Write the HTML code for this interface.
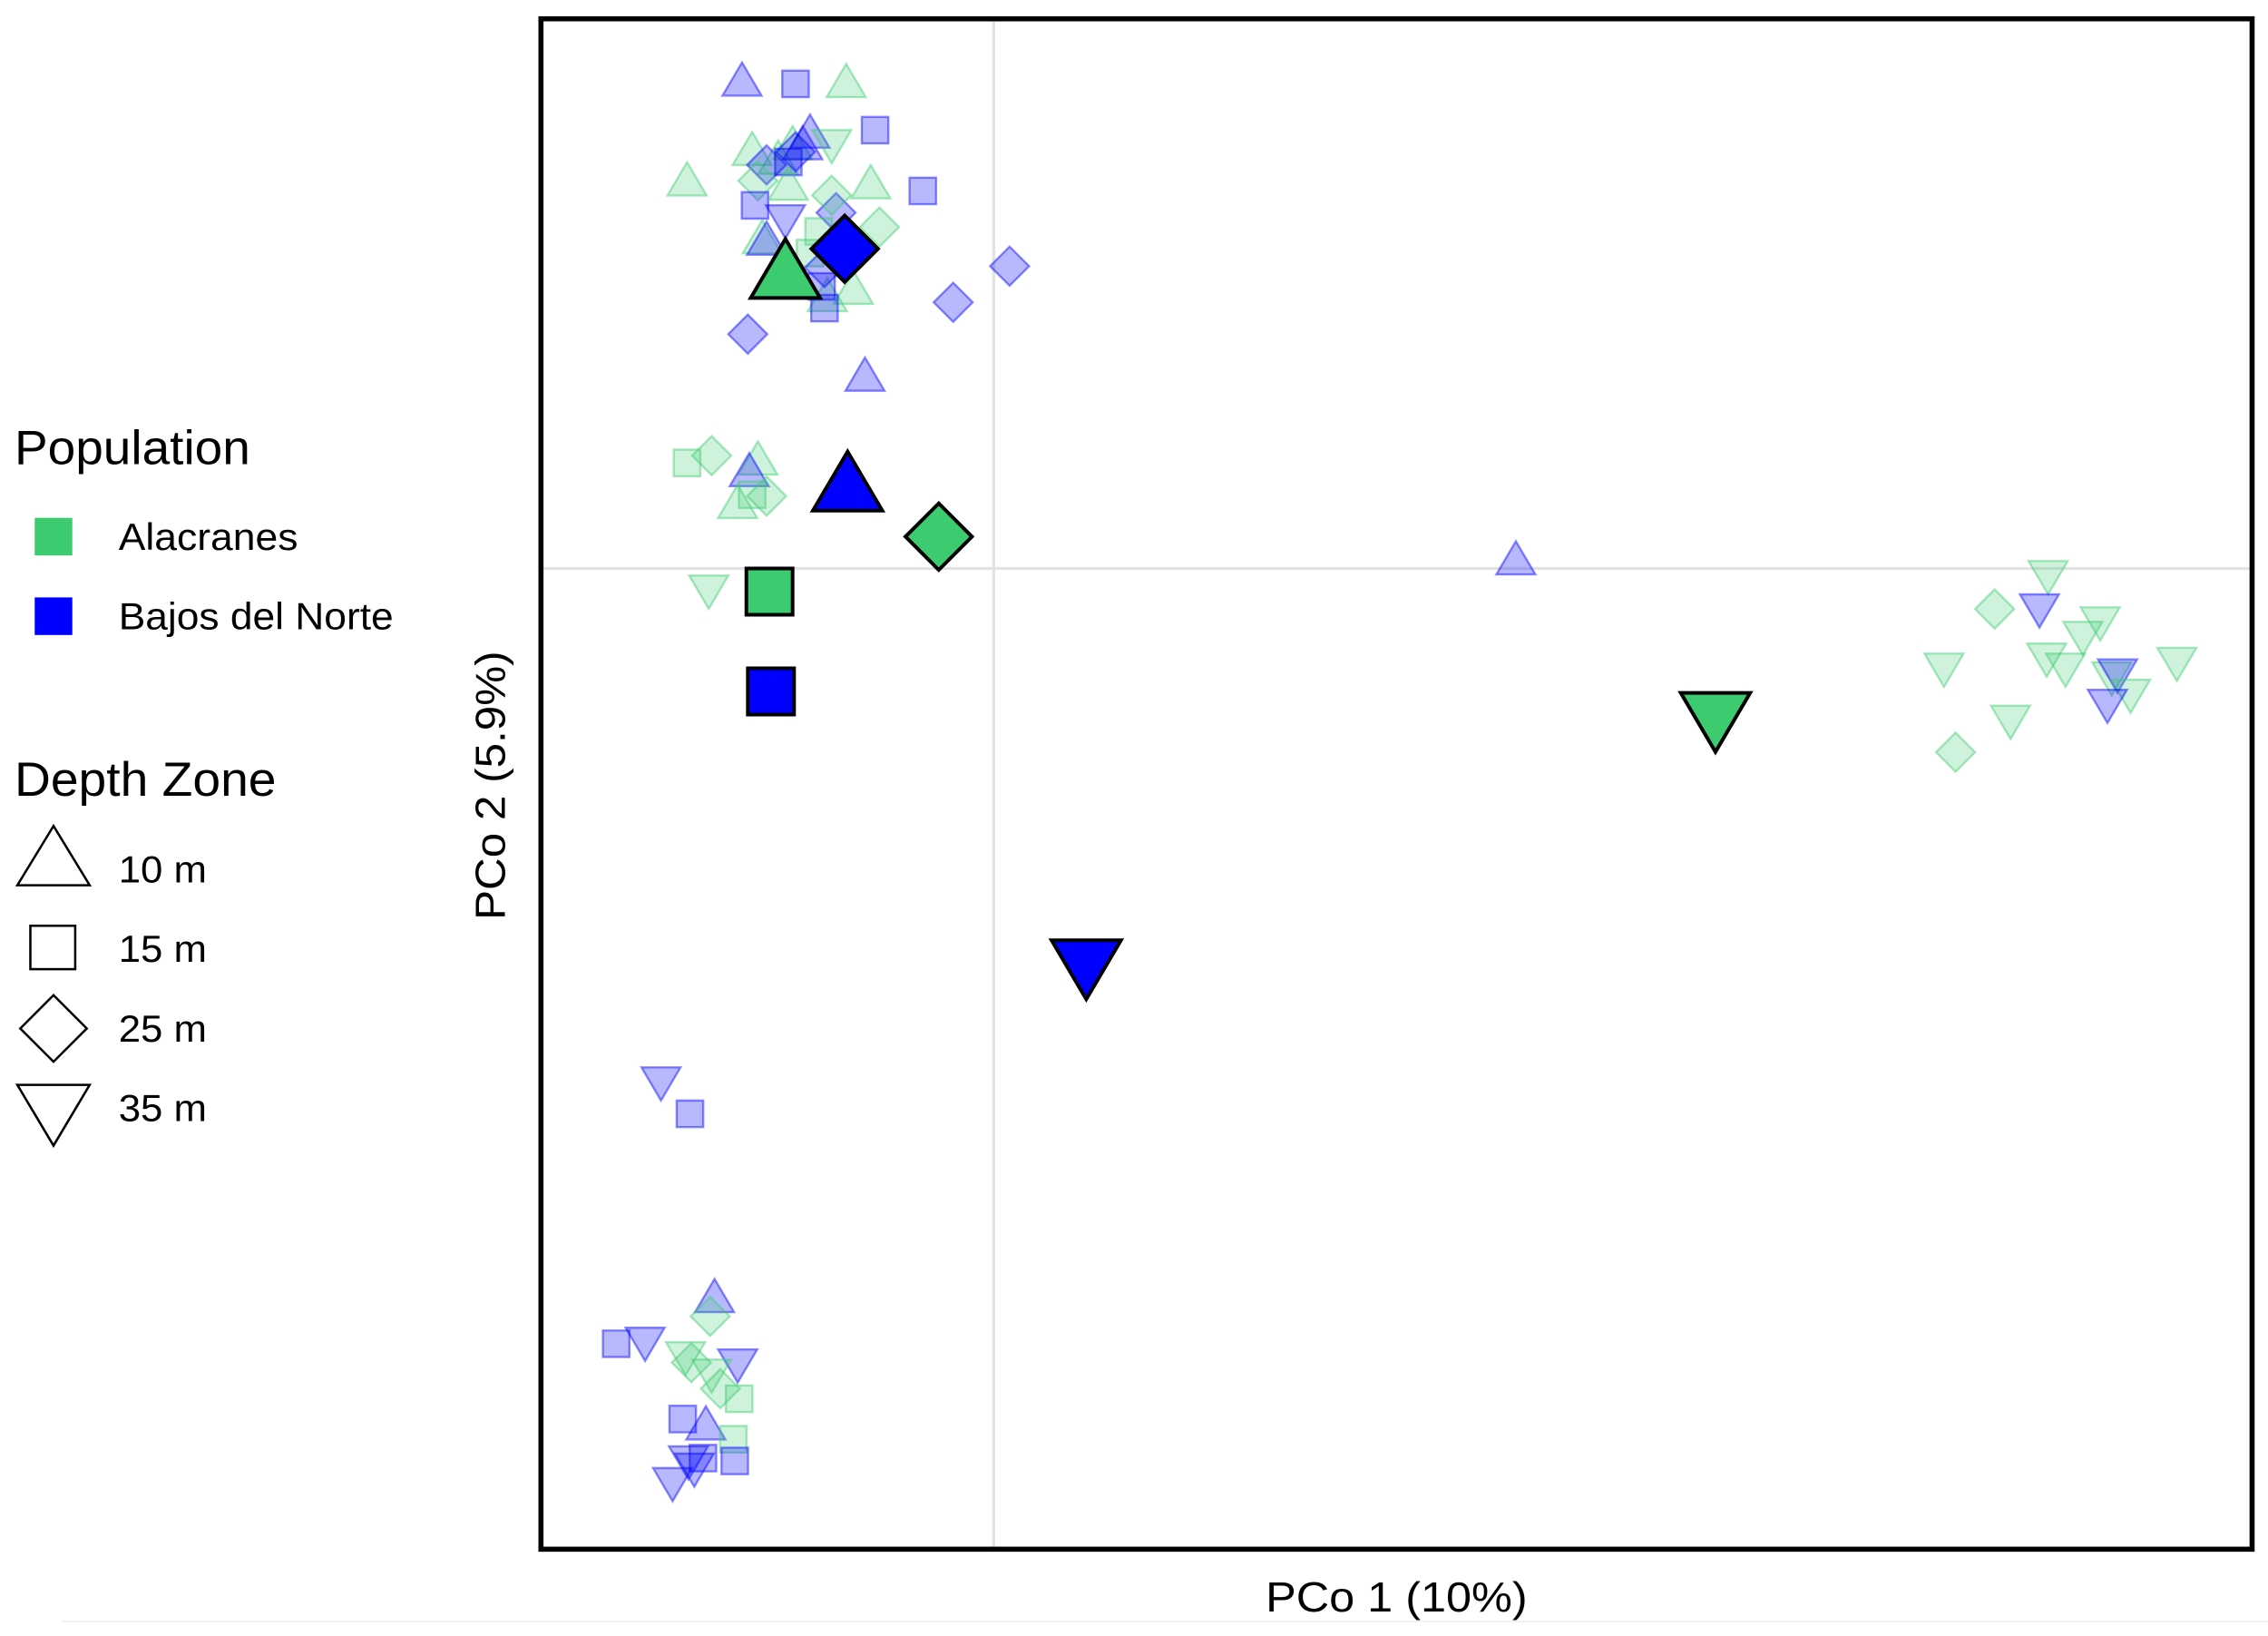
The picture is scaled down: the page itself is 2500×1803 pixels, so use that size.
<!DOCTYPE html>
<html><head><meta charset="utf-8"><style>
html,body{margin:0;padding:0;background:#fff;}
svg{display:block;}
text{font-family:"Liberation Sans",Arial,sans-serif;fill:#000;}
</style></head><body>
<svg id="s" width="2500" height="1803" viewBox="0 0 1568 1131" preserveAspectRatio="none" xmlns="http://www.w3.org/2000/svg">
<rect x="0" y="0" width="1568" height="1131" fill="#fff"/>
<line x1="43" y1="1121" x2="1568" y2="1121" stroke="#eee" stroke-width="1"/>
<line x1="687" y1="12" x2="687" y2="1071" stroke="#e2e2e2" stroke-width="2"/>
<line x1="374" y1="393" x2="1557" y2="393" stroke="#e2e2e2" stroke-width="2"/>
<g id="pts"></g>
<rect x="374" y="13" width="1183" height="1058" fill="none" stroke="#000" stroke-width="3.5"/>
<text x="10" y="321" font-size="33" textLength="163" lengthAdjust="spacingAndGlyphs">Population</text>
<rect x="24" y="358" width="26" height="26" fill="#3ccb6e"/>
<text x="82" y="380" font-size="26" textLength="124" lengthAdjust="spacingAndGlyphs">Alacranes</text>
<rect x="24" y="413" width="26" height="26" fill="#0000ff"/>
<text x="82" y="435" font-size="26" textLength="190" lengthAdjust="spacingAndGlyphs">Bajos del Norte</text>
<text x="10" y="550" font-size="33" textLength="181" lengthAdjust="spacingAndGlyphs">Depth Zone</text>
<path d="M37,571 L62,612 L12,612 Z" fill="none" stroke="#000" stroke-width="1.6"/>
<text x="82" y="610" font-size="26" textLength="61" lengthAdjust="spacingAndGlyphs">10 m</text>
<rect x="21" y="640" width="31" height="30" fill="none" stroke="#000" stroke-width="1.6"/>
<text x="82" y="665" font-size="26" textLength="61" lengthAdjust="spacingAndGlyphs">15 m</text>
<path d="M37,688 L60,711 L37,734 L14,711 Z" fill="none" stroke="#000" stroke-width="1.6"/>
<text x="82" y="720" font-size="26" textLength="61" lengthAdjust="spacingAndGlyphs">25 m</text>
<path d="M12,750 L62,750 L37,792 Z" fill="none" stroke="#000" stroke-width="1.6"/>
<text x="82" y="775" font-size="26" textLength="61" lengthAdjust="spacingAndGlyphs">35 m</text>
<text x="875" y="1114" font-size="29" textLength="181" lengthAdjust="spacingAndGlyphs">PCo 1 (10%)</text>
<text transform="translate(349,636) rotate(-90)" font-size="29" textLength="186" lengthAdjust="spacingAndGlyphs">PCo 2 (5.9%)</text>
</svg>
<script>
var g=document.getElementById('pts');
function shape(t,x,y,s){
 if(t=='u')return 'M'+x+','+(y-s*0.95)+' L'+(x+s)+','+(y+s*0.75)+' L'+(x-s)+','+(y+s*0.75)+' Z';
 if(t=='d')return 'M'+(x-s)+','+(y-s*0.75)+' L'+(x+s)+','+(y-s*0.75)+' L'+x+','+(y+s*0.95)+' Z';
 if(t=='s'){var h=s*0.68;return 'M'+(x-h)+','+(y-h)+' H'+(x+h)+' V'+(y+h)+' H'+(x-h)+' Z';}
 return 'M'+x+','+(y-s)+' L'+(x+s)+','+y+' L'+x+','+(y+s)+' L'+(x-s)+','+y+' Z';
}
function add(c,t,x,y,big){
 var p=document.createElementNS('http://www.w3.org/2000/svg','path');
 var s=big?(t=='s'?23.5:(t=='m'?23:24)):13.5;
 p.setAttribute('d',shape(t,x,y,s));
 var col=c=='g'?'#3ccb6e':'#0000ff';
 if(big){p.setAttribute('fill',col);p.setAttribute('stroke','#000');p.setAttribute('stroke-width','2.5');}
 else{p.setAttribute('fill',col);p.setAttribute('fill-opacity',c=='g'?'0.25':'0.28');p.setAttribute('stroke',col);p.setAttribute('stroke-opacity','0.45');p.setAttribute('stroke-width','1.5');}
 g.appendChild(p);
}
var L=[
['b','u',513,56],['b','s',550,58],['g','u',585,57],['b','s',605,90],
['g','u',520,104],['g','u',548,100],['g','u',538,110],['b','u',560,92],['g','d',575,100],['b','m',530,114],['b','m',550,105],['b','s',545,112],['b','u',555,100],['g','m',524,125],
['g','u',475,125],['g','u',602,127],['b','s',638,132],['b','s',522,142],['b','d',543,152],
['g','m',608,157],['b','m',578,147],['g','m',575,135],['g','u',545,128],['g','s',566,160],
['g','u',527,165],['b','u',530,166],['g','s',560,175],['g','u',590,200],['g','u',572,205],['b','s',570,213],['b','s',568,198],['b','m',570,185],
['b','m',698,184],['b','m',659,209],['b','m',517,231],['b','u',598,260],
['g','s',475,320],['g','m',492,315],['g','u',524,318],['b','u',518,326],['g','s',520,342],['g','u',510,348],['g','m',530,343],
['g','d',490,408],['b','u',1048,387],
['g','d',1416,398],['g','m',1379,421],['b','d',1410,421],['g','d',1452,430],['g','d',1440,440],['g','d',1344,462],['g','d',1415,455],['g','d',1428,462],['g','d',1460,468],['b','d',1464,466],['g','d',1505,458],['g','d',1473,480],['b','d',1457,487],['g','d',1390,498],['g','m',1352,520],
['b','d',457,748],['b','s',477,770],
['b','u',494,897],['g','m',491,910],['b','s',426,929],['b','d',446,928],['g','d',474,938],['g','m',478,942],['b','d',510,943],['g','d',492,950],['g','m',498,960],['g','s',511,967],['b','s',472,981],['b','u',488,985],['g','s',507,995],['b','s',508,1010],['b','s',486,1008],['b','d',476,1010],['b','d',480,1015],['b','d',465,1025]
];
L.forEach(function(a){add(a[0],a[1],a[2],a[3],false);});
var B=[['g','u',543,188],['b','m',584,172],['b','u',586,335],['g','m',649,371],['g','s',532,409],['b','s',533,478],['g','d',1186,497],['b','d',751,668]];
B.forEach(function(a){add(a[0],a[1],a[2],a[3],true);});
</script>
</body></html>
